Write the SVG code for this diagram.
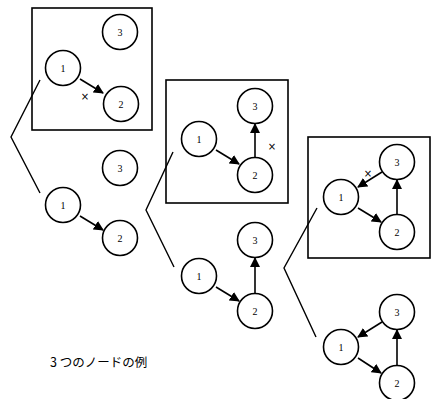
<svg xmlns="http://www.w3.org/2000/svg" width="432" height="399" viewBox="0 0 432 399">
<style>
.box{fill:none;stroke:#000;stroke-width:1.6}
.n circle{fill:#fff;stroke:#000;stroke-width:1.6}
.n text{font-family:"Liberation Serif",serif;font-size:10px;text-anchor:middle;dominant-baseline:central;fill:#000}
.e{stroke:#000;stroke-width:1.6;fill:none;marker-end:url(#a)}
.br{stroke:#000;stroke-width:1.4;fill:none}
.x{font-family:"DejaVu Sans",sans-serif;font-size:10px;text-anchor:middle;dominant-baseline:central}
.cap{font-family:"Noto Sans CJK JP","DejaVu Sans",sans-serif;font-size:12.5px}
</style>
<defs>
<marker id="a" viewBox="0 0 10 10" refX="9" refY="5" markerWidth="10" markerHeight="10" markerUnits="userSpaceOnUse" orient="auto">
<path d="M0,0 L10,5 L0,10 z" fill="#000"/>
</marker>
</defs>
<g id="boxes">
<rect class="box" x="32" y="8" width="120" height="122"/>
<rect class="box" x="166" y="80" width="122" height="123"/>
<rect class="box" x="308" y="137" width="122" height="121"/>
</g>
<g id="connectors">
<polyline class="br" points="40,80 11,137 40,193"/>
<polyline class="br" points="173,152 146,210 174,267"/>
<polyline class="br" points="317,208 284,268 316,337"/>
<line class="e" x1="80" y1="79" x2="103" y2="93"/>
<line class="e" x1="80" y1="216" x2="103" y2="230"/>
<line class="e" x1="216" y1="150" x2="239" y2="164"/>
<line class="e" x1="255" y1="157" x2="255" y2="124"/>
<line class="e" x1="216" y1="287" x2="239" y2="301"/>
<line class="e" x1="255" y1="293" x2="255" y2="258"/>
<line class="e" x1="358" y1="208" x2="381" y2="222"/>
<line class="e" x1="397" y1="214" x2="397" y2="180"/>
<line class="e" x1="382" y1="172" x2="358" y2="187"/>
<line class="e" x1="358" y1="358" x2="381" y2="373"/>
<line class="e" x1="397" y1="365" x2="397" y2="330"/>
<line class="e" x1="382" y1="322" x2="358" y2="337"/>
</g>
<g id="marks">
<text class="x" x="85" y="96">×</text>
<text class="x" x="272" y="146">×</text>
<text class="x" x="368" y="173">×</text>
</g>
<g id="g1a1" class="n"><circle cx="63" cy="68" r="17.5"/><text x="63" y="68">1</text></g>
<g id="g1a2" class="n"><circle cx="121" cy="104" r="17.5"/><text x="121" y="104">2</text></g>
<g id="g1a3" class="n"><circle cx="120" cy="32" r="17.5"/><text x="120" y="32">3</text></g>
<g id="g1b1" class="n"><circle cx="63" cy="205" r="17.5"/><text x="63" y="205">1</text></g>
<g id="g1b2" class="n"><circle cx="120" cy="238" r="17.5"/><text x="120" y="238">2</text></g>
<g id="g1b3" class="n"><circle cx="120" cy="168" r="17.5"/><text x="120" y="168">3</text></g>
<g id="g2a1" class="n"><circle cx="199" cy="139" r="17.5"/><text x="199" y="139">1</text></g>
<g id="g2a2" class="n"><circle cx="255" cy="175" r="17.5"/><text x="255" y="175">2</text></g>
<g id="g2a3" class="n"><circle cx="255" cy="106" r="17.5"/><text x="255" y="106">3</text></g>
<g id="g2b1" class="n"><circle cx="199" cy="276" r="17.5"/><text x="199" y="276">1</text></g>
<g id="g2b2" class="n"><circle cx="255" cy="311" r="17.5"/><text x="255" y="311">2</text></g>
<g id="g2b3" class="n"><circle cx="255" cy="240" r="17.5"/><text x="255" y="240">3</text></g>
<g id="g3a1" class="n"><circle cx="341" cy="197" r="17.5"/><text x="341" y="197">1</text></g>
<g id="g3a2" class="n"><circle cx="397" cy="232" r="17.5"/><text x="397" y="232">2</text></g>
<g id="g3a3" class="n"><circle cx="397" cy="162" r="17.5"/><text x="397" y="162">3</text></g>
<g id="g3b1" class="n"><circle cx="341" cy="347" r="17.5"/><text x="341" y="347">1</text></g>
<g id="g3b2" class="n"><circle cx="397" cy="383" r="17.5"/><text x="397" y="383">2</text></g>
<g id="g3b3" class="n"><circle cx="397" cy="312" r="17.5"/><text x="397" y="312">3</text></g>
<text class="cap" x="50" y="367">3 つのノードの例</text>
</svg>
